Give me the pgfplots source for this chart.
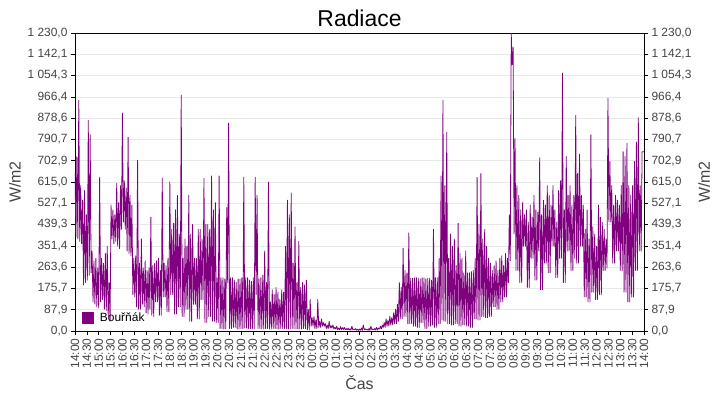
\documentclass[border=0pt]{standalone}
\usepackage{fontspec}
\setmainfont{Liberation Sans}
\usepackage{pgfplots}
\usepackage{pgfplotstable}
\pgfplotsset{compat=1.18}
\definecolor{bour}{HTML}{800080}
\definecolor{gridgray}{HTML}{E8E8E8}
\definecolor{labgray}{HTML}{444444}

% radiation, one value every 0.04 h from 14:00
\pgfplotstableread[row sep=\\]{v\\
650\\390\\720\\380\\953\\370\\600\\360\\540\\190\\
580\\200\\480\\210\\870\\230\\810\\240\\330\\120\\
290\\110\\300\\100\\260\\95\\635\\120\\300\\130\\
280\\90\\320\\85\\350\\60\\200\\40\\520\\380\\
500\\360\\480\\370\\610\\350\\530\\340\\600\\420\\
900\\450\\620\\420\\590\\330\\800\\320\\560\\310\\
520\\150\\300\\140\\310\\100\\705\\90\\280\\90\\
380\\110\\260\\100\\290\\75\\250\\70\\260\\90\\
470\\65\\270\\60\\280\\120\\290\\120\\300\\65\\
250\\65\\630\\140\\280\\140\\270\\80\\300\\80\\
615\\150\\420\\150\\445\\70\\500\\70\\560\\100\\
400\\100\\974\\60\\300\\60\\380\\90\\350\\90\\
560\\40\\400\\40\\440\\110\\300\\110\\300\\50\\
420\\50\\420\\130\\380\\130\\630\\35\\440\\35\\
440\\60\\420\\60\\640\\40\\500\\40\\530\\35\\
220\\35\\640\\10\\220\\10\\220\\8\\215\\8\\
510\\200\\858\\10\\220\\10\\220\\15\\210\\15\\
200\\8\\215\\8\\215\\10\\220\\10\\635\\12\\
220\\12\\220\\10\\210\\10\\205\\8\\220\\8\\
635\\150\\560\\10\\215\\10\\220\\8\\230\\8\\
330\\10\\200\\10\\615\\8\\120\\8\\170\\10\\
150\\10\\180\\8\\160\\8\\130\\10\\170\\10\\
160\\10\\350\\10\\540\\8\\480\\8\\570\\10\\
280\\10\\430\\8\\200\\8\\370\\8\\180\\8\\
200\\10\\190\\10\\210\\5\\90\\5\\130\\20\\
55\\20\\60\\10\\45\\10\\130\\15\\40\\15\\
50\\20\\35\\20\\30\\10\\25\\10\\40\\12\\
22\\12\\25\\8\\15\\8\\20\\5\\12\\5\\
18\\6\\14\\6\\15\\5\\10\\5\\12\\4\\
9\\4\\20\\5\\8\\5\\10\\3\\7\\3\\
8\\3\\12\\3\\25\\5\\9\\5\\8\\3\\
10\\3\\20\\5\\8\\5\\10\\4\\15\\4\\
12\\8\\20\\8\\25\\15\\35\\15\\50\\20\\
45\\20\\60\\25\\55\\25\\75\\30\\90\\30\\
110\\40\\200\\50\\180\\50\\342\\60\\250\\60\\
240\\30\\405\\30\\218\\30\\218\\20\\220\\20\\
220\\15\\218\\15\\215\\35\\220\\35\\220\\10\\
215\\10\\218\\20\\218\\20\\210\\25\\420\\15\\
220\\15\\220\\30\\300\\30\\640\\45\\953\\40\\
600\\40\\820\\30\\300\\30\\400\\25\\350\\25\\
380\\30\\270\\30\\445\\20\\320\\20\\300\\25\\
240\\25\\330\\20\\240\\20\\240\\15\\245\\15\\
250\\50\\300\\50\\635\\45\\440\\45\\650\\60\\
380\\60\\420\\55\\350\\55\\300\\60\\280\\60\\
250\\100\\270\\100\\290\\90\\250\\90\\300\\120\\
310\\120\\270\\140\\320\\140\\300\\200\\480\\290\\
1228\\1100\\1170\\400\\795\\250\\600\\250\\560\\200\\
500\\200\\530\\350\\480\\350\\500\\180\\450\\180\\
520\\300\\470\\300\\560\\210\\500\\210\\490\\330\\
715\\170\\480\\170\\540\\280\\520\\280\\600\\240\\
560\\240\\520\\350\\600\\350\\500\\220\\450\\220\\
580\\300\\620\\300\\1065\\200\\500\\200\\720\\330\\
560\\330\\600\\250\\520\\250\\560\\300\\890\\280\\
650\\280\\730\\350\\560\\350\\520\\140\\420\\140\\
500\\120\\380\\120\\810\\160\\430\\160\\400\\130\\
350\\130\\520\\150\\470\\150\\450\\250\\420\\250\\
380\\260\\960\\450\\700\\450\\600\\280\\520\\280\\
560\\330\\540\\330\\520\\250\\600\\250\\740\\160\\
720\\160\\775\\120\\600\\120\\560\\140\\600\\140\\
700\\250\\780\\250\\880\\330\\600\\330\\740\\740\\
740\\
}\radiace

\pgfplotsset{
  radstyle/.style={
    at={(0,0)}, anchor=south west,
    scale only axis, width=569bp, height=298bp,
    xmin=0, xmax=24, ymin=0, ymax=1230,
    ytick={0,87.8571,175.7143,263.5714,351.4286,439.2857,527.1429,615,
           702.8571,790.7143,878.5714,966.4286,1054.2857,1142.1429,1230},
    yticklabel style={
      font=\fontsize{12}{14}\selectfont, text=labgray,
      /pgf/number format/.cd, fixed, fixed zerofill, precision=1,
      use comma, 1000 sep={\ }, assume math mode=true},
    ylabel={W/m2},
    ylabel style={font=\fontsize{16}{19}\selectfont, text=labgray},
    tick align=outside, major tick length=4bp,
    every tick/.style={black, line width=0.6pt},
    axis line style={black, line width=0.8pt},
  }
}

\begin{document}
\begin{tikzpicture}
\path[use as bounding box] (-75bp,-69bp) rectangle (645bp,331bp);
\begin{axis}[
  radstyle,
  title={Radiace},
  title style={font=\fontsize{23}{27}\selectfont, yshift=-3bp},
  xlabel={Čas},
  xlabel style={font=\fontsize{16}{19}\selectfont, text=labgray},
  xtick={0,0.5,...,24},
  xticklabels={14:00,14:30,15:00,15:30,16:00,16:30,17:00,17:30,18:00,18:30,
    19:00,19:30,20:00,20:30,21:00,21:30,22:00,22:30,23:00,23:30,
    00:00,00:30,01:00,01:30,02:00,02:30,03:00,03:30,04:00,04:30,
    05:00,05:30,06:00,06:30,07:00,07:30,08:00,08:30,09:00,09:30,
    10:00,10:30,11:00,11:30,12:00,12:30,13:00,13:30,14:00},
  xticklabel style={rotate=90, anchor=east,
    font=\fontsize{12}{14}\selectfont, text=labgray},
  xtick pos=bottom, ytick pos=left,
  ymajorgrids, grid style={gridgray, line width=0.6pt},
  legend style={at={(0.007,0.012)}, anchor=south west, draw=none, fill=none,
    font=\fontsize{12}{14}\selectfont},
  legend cell align=left,
  legend image code/.code={\fill[bour] (0bp,-5.5bp) rectangle (11bp,5.5bp);
    \path (15bp,0bp);},
]
\addplot[bour, line width=0.8pt, line join=round, line cap=round, sharp plot]
  table[x expr=\coordindex*0.04, y=v] {\radiace};
\addlegendentry{Bouřňák}
\end{axis}
\begin{axis}[
  radstyle,
  hide x axis,
  axis y line*=right,
]
\end{axis}
\end{tikzpicture}
\end{document}
